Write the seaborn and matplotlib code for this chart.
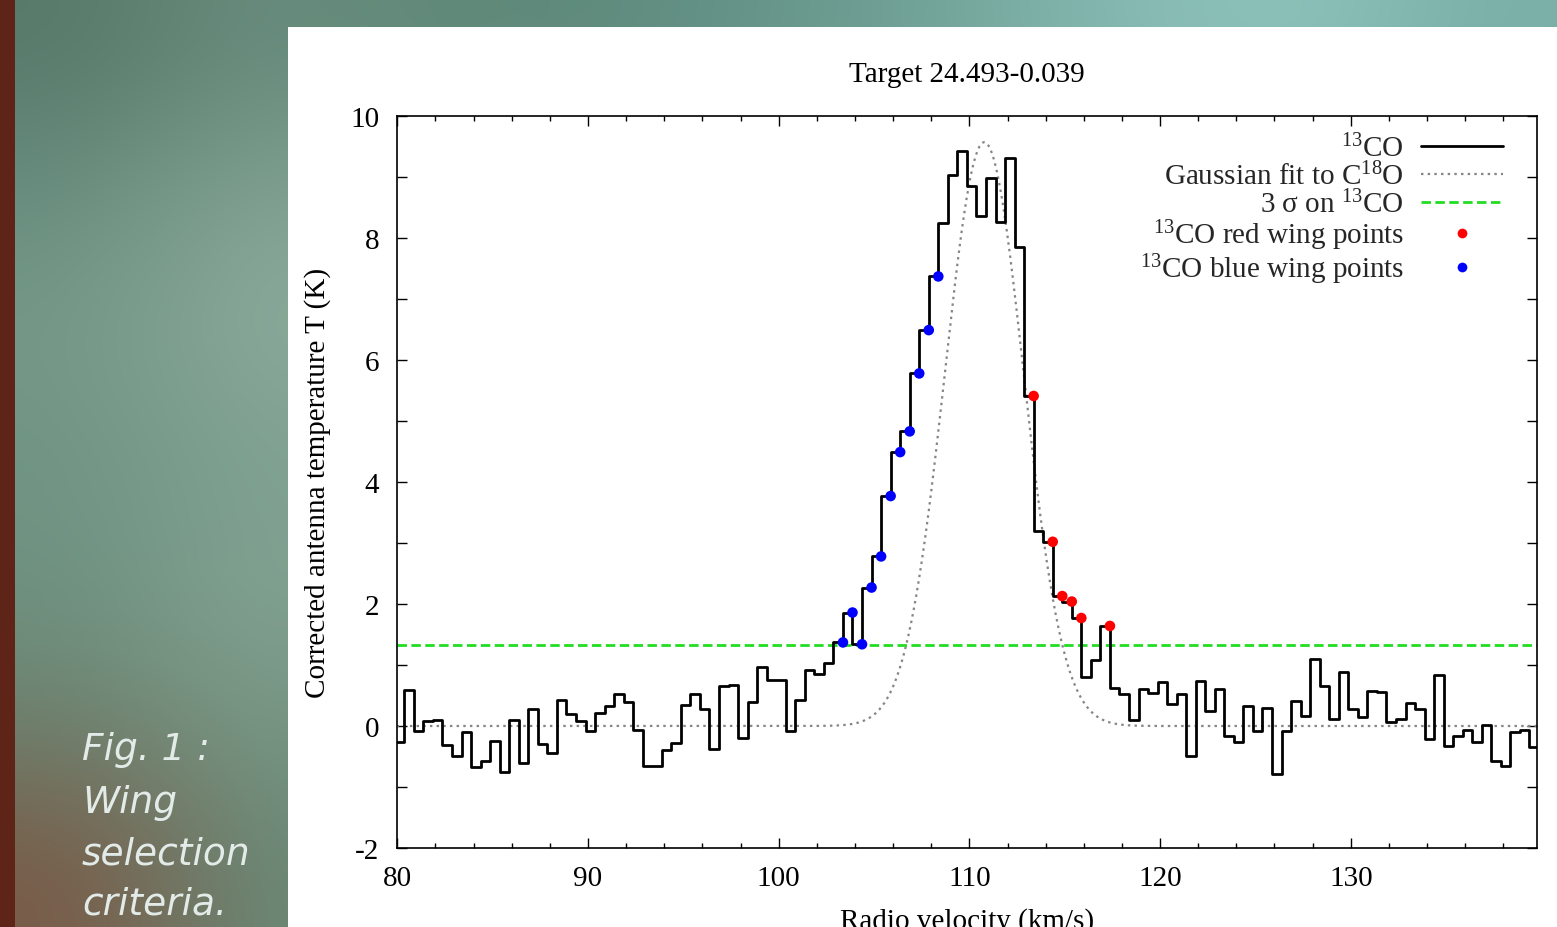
import numpy as np
import matplotlib
matplotlib.use("Agg")
import matplotlib.pyplot as plt
import seaborn as sns
from matplotlib.patches import Rectangle
from matplotlib.lines import Line2D
from matplotlib.ticker import MultipleLocator

# ---------------- data ----------------
chan_start = 79.87      # km/s, first channel
chan_width = 0.5        # km/s
t13co = [
    -0.26, -0.26, 0.59, -0.09, 0.09, 0.10, -0.31, -0.49, -0.10, -0.68,
    -0.58, -0.25, -0.76, 0.10, -0.61, 0.28, -0.30, -0.45, 0.43, 0.19,
    0.08, -0.08, 0.22, 0.33, 0.53, 0.40, -0.07, -0.66, -0.66, -0.39,
    -0.28, 0.35, 0.53, 0.28, -0.37, 0.65, 0.67, -0.19, 0.39, 0.96,
    0.76, 0.76, -0.09, 0.43, 0.91, 0.85, 1.03, 1.37, 1.86, 1.34,
    2.27, 2.78, 3.77, 4.49, 4.83, 5.78, 6.49, 7.37, 8.24, 9.03,
    9.42, 8.86, 8.36, 8.99, 8.27, 9.31, 7.85, 5.41, 3.20, 3.02,
    2.13, 2.04, 1.77, 0.81, 1.08, 1.64, 0.63, 0.52, 0.10, 0.61,
    0.54, 0.72, 0.36, 0.52, -0.49, 0.74, 0.25, 0.60, -0.16, -0.27,
    0.33, -0.09, 0.30, -0.79, -0.09, 0.41, 0.16, 1.10, 0.65, 0.11,
    0.88, 0.28, 0.14, 0.57, 0.55, 0.06, 0.11, 0.38, 0.28, -0.21,
    0.84, -0.32, -0.16, -0.06, -0.26, 0.02, -0.57, -0.65, -0.10, -0.07,
    -0.35,
]
vel = chan_start + chan_width * np.arange(len(t13co))
t13co = np.array(t13co)

blue_idx = [47, 48, 49, 50, 51, 52, 53, 54, 55, 56, 57]
red_idx = [67, 69, 70, 71, 72, 75]

gauss_amp = 9.57
gauss_center = 110.78
gauss_sigma = 2.06
three_sigma = 1.33

title = "Target 24.493-0.039"
xlabel = "Radio velocity (km/s)"
ylabel = "Corrected antenna temperature T (K)"
xticks = [80, 90, 100, 110, 120, 130]
yticks = [-2, 0, 2, 4, 6, 8, 10]
legend_labels = [r"$^{13}$CO", r"Gaussian fit to C$^{18}$O", r"3 σ on $^{13}$CO",
                 r"$^{13}$CO red wing points", r"$^{13}$CO blue wing points"]
caption = ["Fig. 1 :", "Wing", "selection", "criteria."]

# ---------------- style ----------------
sns.set_theme(style="ticks")
plt.rcParams["font.family"] = ["Liberation Serif", "DejaVu Serif"]
plt.rcParams["mathtext.fontset"] = "custom"
plt.rcParams["mathtext.rm"] = "Liberation Serif"
plt.rcParams["mathtext.it"] = "Liberation Serif:italic"
plt.rcParams["axes.unicode_minus"] = False

FS = 21

W, H = 1557, 928
fig = plt.figure(figsize=(W / 100, H / 100), dpi=100)

# slide background
bg = fig.add_axes([0, 0, 1, 1], zorder=-10)
bg.axis("off")
rows = [
    ["#56796a", "#6a8d7e", "#5f8777", "#5d8a7c", "#66958a", "#74a69c", "#86bbb3", "#8fc6bf", "#79b0a8"],
    ["#6a8f7f", "#86a596", "#7fa293", "#7fa293", "#7fa293", "#7fa293", "#7fa293", "#7fa293", "#7fa293"],
    ["#759888", "#8eac9d", "#86a797", "#86a797", "#86a797", "#86a797", "#86a797", "#86a797", "#86a797"],
    ["#6f9383", "#80a292", "#80a292", "#80a292", "#80a292", "#80a292", "#80a292", "#80a292", "#80a292"],
    ["#6f9180", "#86a595", "#7a9c8c", "#7a9c8c", "#7a9c8c", "#7a9c8c", "#7a9c8c", "#7a9c8c", "#7a9c8c"],
    ["#6c7f6c", "#7a9886", "#6f917f", "#6f917f", "#6f917f", "#6f917f", "#6f917f", "#6f917f", "#6f917f"],
    ["#7a5a46", "#6a8a78", "#6a8a78", "#6a8a78", "#6a8a78", "#6a8a78", "#6a8a78", "#6a8a78", "#6a8a78"],
]
img = np.array([[matplotlib.colors.to_rgb(c) for c in r] for r in rows])
bg.imshow(img, aspect="auto", interpolation="bicubic", extent=[0, 1, 0, 1])
bg.set_xlim(0, 1)
bg.set_ylim(0, 1)
bg.add_patch(Rectangle((0, 0), 15 / W, 1, facecolor="#5e2418", edgecolor="none"))
bg.add_patch(Rectangle((288 / W, 0), 1 - 288 / W, 1 - 28 / H, facecolor="white", edgecolor="none"))

# main axes
ax = fig.add_axes([397.3 / W, 1 - 849 / H, (1536.7 - 397.3) / W, (849 - 117) / H], zorder=1)
ax.set_facecolor("white")

vfine = np.linspace(78, 142, 1500)
gfit = gauss_amp * np.exp(-0.5 * ((vfine - gauss_center) / gauss_sigma) ** 2)

sns.lineplot(x=vfine, y=gfit, color="#858585", linewidth=1.6, linestyle=(0, (1.1, 1.9)), ax=ax)
ax.axhline(three_sigma, color="#22dd22", lw=2.0, dashes=(3.4, 1.6), zorder=2)
sns.lineplot(x=vel, y=t13co, drawstyle="steps-pre", color="black", linewidth=2.0, ax=ax, zorder=3)
sns.scatterplot(x=vel[red_idx], y=t13co[red_idx], color="#ff0000", s=58, edgecolor="none", ax=ax, zorder=5)
sns.scatterplot(x=vel[blue_idx], y=t13co[blue_idx], color="#0000ff", s=58, edgecolor="none", ax=ax, zorder=5)

ax.set_xlim(80, 139.75)
ax.set_ylim(-2, 10)
ax.set_xticks(xticks)
ax.set_yticks(yticks)
ax.xaxis.set_minor_locator(MultipleLocator(2))
ax.yaxis.set_minor_locator(MultipleLocator(1))
ax.tick_params(which="both", direction="in", top=True, right=True, width=1.0, color="black",
               labelsize=FS, labelcolor="black")
ax.tick_params(which="major", length=7)
ax.tick_params(axis="x", which="major", pad=12)
ax.tick_params(axis="y", which="major", pad=13)
ax.tick_params(axis="x", which="minor", length=3.5)
ax.tick_params(axis="y", which="minor", length=7)
for sp in ax.spines.values():
    sp.set_visible(True)
    sp.set_color("black")
    sp.set_linewidth(1.2)

ax.set_title(title, fontsize=FS, pad=25, color="black")
ax.set_xlabel(xlabel, fontsize=FS, labelpad=12, color="black")
ax.set_ylabel(ylabel, fontsize=FS, labelpad=14, color="black")

handles = [
    Line2D([], [], color="black", lw=2.0),
    Line2D([], [], color="#858585", lw=1.6, linestyle=(0, (1.1, 1.9))),
    Line2D([], [], color="#22dd22", lw=2.0, dashes=(3.4, 1.6)),
    Line2D([], [], ls="none", marker="o", color="#ff0000", markersize=7, markeredgewidth=0),
    Line2D([], [], ls="none", marker="o", color="#0000ff", markersize=7, markeredgewidth=0),
]
leg = ax.legend(handles, legend_labels, loc="upper right",
                bbox_to_anchor=((1503 - 397.3) / 1139.4, 0.976),
                frameon=False, markerfirst=False, handlelength=2.8, handletextpad=0.6,
                labelspacing=-0.02, borderpad=0, borderaxespad=0, fontsize=FS)

cap_y = [750, 803, 855, 905]
for txt, yy in zip(caption, cap_y):
    fig.text(82 / W, 1 - yy / H, txt, family="DejaVu Sans", style="italic", fontsize=27,
             color="#e2ebe8", va="center", ha="left")

fig.savefig("out.png", dpi=100)
